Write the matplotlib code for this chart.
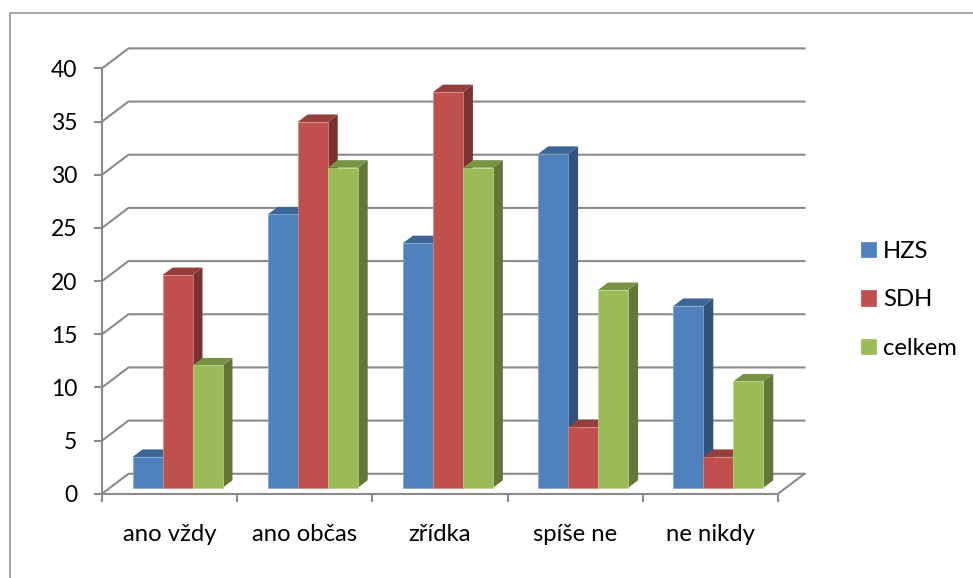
# -*- coding: utf-8 -*-
import matplotlib
matplotlib.use("Agg")
import matplotlib.pyplot as plt
import numpy
from matplotlib.lines import Line2D

categories = ["ano vždy", "ano občas", "zřídka", "spíše ne", "ne nikdy"]
series_names = ["HZS", "SDH", "celkem"]
hzs_values = [2.9, 25.7, 23.0, 31.4, 17.1]
sdh_values = [20.0, 34.4, 37.2, 5.7, 2.9]
celkem_values = [11.5, 30.1, 30.1, 18.6, 10.0]
y_ticks = [0, 5, 10, 15, 20, 25, 30, 35, 40]

FIG_W, FIG_H = 973, 578
GRAY = "#8a8a8a"
FRONT_COLORS = ["#4f81bd", "#c0504d", "#9bbb59"]
EDGE_COLORS = ["#7ea3d2", "#d98a88", "#bcd48a"]
TOP_COLORS = ["#3c6696", "#953e3b", "#779343"]
SIDE_COLORS = ["#30527b", "#7a3230", "#637739"]

# hloubka sceny v jednotkach os: kategorie a hodnoty
DEPTH_X = 26.5 / 135.2
DEPTH_Y = 20.0 / 10.62
BAR_WIDTH = 30.0 / 135.2
BAR_NEAR = 0.3
BAR_FAR = 0.675


def depth_point(x_value, y_value, depth):
    return x_value + depth * DEPTH_X, y_value + depth * DEPTH_Y


plt.rcParams["font.family"] = ["Lato", "DejaVu Sans"]
fig = plt.figure(figsize=(FIG_W / 100, FIG_H / 100), dpi=100)
ax = fig.add_axes([102 / FIG_W, (FIG_H - 493.8) / FIG_H, 676 / FIG_W, 425.4 / FIG_H])
ax.set_xlim(0, len(categories))
ax.set_ylim(0, 40)
ax.patch.set_visible(False)

# ramecek grafu, dole a vpravo je oriznuty
fig.add_artist(Line2D([9.5 / FIG_W, 9.5 / FIG_W, 1], [0, 1 - 12.5 / FIG_H, 1 - 12.5 / FIG_H],
                      color="#8c8c8c", lw=1.1))

for spine_name in ["top", "right"]:
    ax.spines[spine_name].set_visible(False)
for spine_name in ["left", "bottom"]:
    ax.spines[spine_name].set_color(GRAY)
    ax.spines[spine_name].set_linewidth(1.5)

ax.set_yticks(y_ticks)
ax.set_xticks(numpy.arange(len(categories) + 1))
ax.set_xticklabels([])
ax.set_xticks(numpy.arange(len(categories)) + 0.5, categories, minor=True)
ax.tick_params(axis="y", length=5.8, width=1.5, color=GRAY, labelsize=16.5, pad=12, labelcolor="black")
ax.tick_params(axis="x", which="major", length=5.8, width=1.5, color=GRAY)
ax.tick_params(axis="x", which="minor", length=0, labelsize=17.2, pad=22, labelcolor="black")

# zadni stena a podlaha
for tick in y_ticks:
    back_left = depth_point(0, tick, 1)
    back_right = depth_point(len(categories), tick, 1)
    ax.plot([0, back_left[0], back_right[0]], [tick, back_left[1], back_right[1]],
            color=GRAY, lw=1.5, clip_on=False, zorder=1, solid_joinstyle="miter")
floor_end = depth_point(len(categories), 0, 1)
ax.plot([len(categories), floor_end[0]], [0, floor_end[1]], color=GRAY, lw=1.5, clip_on=False, zorder=1)

all_values = [hzs_values, sdh_values, celkem_values]
legend_handles = []
order = 3
for category_index in range(len(categories)):
    for series_index in range(len(series_names)):
        value = all_values[series_index][category_index]
        near_x = category_index + 0.5 + (series_index - 1.5) * BAR_WIDTH + BAR_NEAR * DEPTH_X
        near_y = BAR_NEAR * DEPTH_Y
        far_x = near_x + (BAR_FAR - BAR_NEAR) * DEPTH_X
        far_y = BAR_FAR * DEPTH_Y

        # bok, vrch a predni stena sloupce
        ax.fill([near_x + BAR_WIDTH, far_x + BAR_WIDTH, far_x + BAR_WIDTH, near_x + BAR_WIDTH],
                [near_y, far_y, far_y + value, near_y + value],
                color=SIDE_COLORS[series_index], lw=0, clip_on=False, zorder=order)
        ax.fill([near_x, near_x + BAR_WIDTH, far_x + BAR_WIDTH, far_x],
                [near_y + value, near_y + value, far_y + value, far_y + value],
                color=TOP_COLORS[series_index], lw=0, clip_on=False, zorder=order)
        bars = ax.bar(near_x, value, BAR_WIDTH, bottom=near_y, align="edge",
                      color=FRONT_COLORS[series_index], edgecolor=EDGE_COLORS[series_index],
                      linewidth=0.5, clip_on=False, zorder=order + 1)
        if category_index == 0:
            legend_handles.append(bars[0])
        order += 2

legend = fig.legend(legend_handles, series_names, loc="upper left",
                    bbox_to_anchor=(861 / FIG_W, 1 - 241 / FIG_H), bbox_transform=fig.transFigure,
                    frameon=False, fontsize=17.2, labelspacing=1.15, handlelength=0.63,
                    handleheight=0.63, handletextpad=0.3, borderaxespad=0, borderpad=0)
for handle, color in zip(legend.legend_handles, FRONT_COLORS):
    handle.set_edgecolor(color)

plt.savefig("out.png", dpi=100)
